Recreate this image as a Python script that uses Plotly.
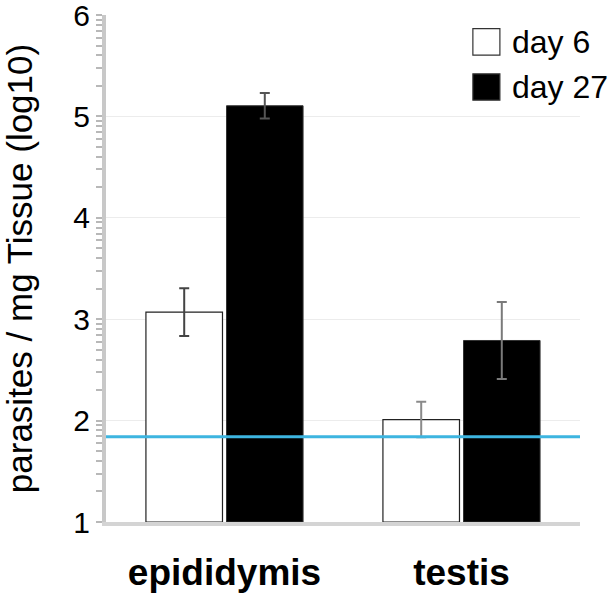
import plotly.graph_objects as go
import numpy as np

categories = ["epididymis", "testis"]
series_names = ["day 6", "day 27"]
day6_values = [3.07, 2.01]
day6_errors = [0.235, 0.175]
day27_values = [5.105, 2.79]
day27_errors = [0.125, 0.38]
threshold = 1.84
y_ticks = [1, 2, 3, 4, 5, 6]

err_colors_d6 = ["#444444", "#8a8a8a"]
err_colors_d27 = ["#555555", "#7a7a7a"]

fig = go.Figure()
for i, cat in enumerate(categories):
    fig.add_trace(go.Bar(
        x=[cat], y=[day6_values[i] - 1], base=1, name=series_names[0],
        offsetgroup="d6", showlegend=False,
        marker=dict(color="white", line=dict(color="#222222", width=1.2)),
        error_y=dict(type="data", array=[day6_errors[i]], color=err_colors_d6[i],
                     thickness=2, width=5),
    ))
    fig.add_trace(go.Bar(
        x=[cat], y=[day27_values[i] - 1], base=1, name=series_names[1],
        offsetgroup="d27", showlegend=False,
        marker=dict(color="black", line=dict(color="#333333", width=1)),
        error_y=dict(type="data", array=[day27_errors[i]], color=err_colors_d27[i],
                     thickness=2, width=5),
    ))

# threshold line
fig.add_shape(type="line", xref="x domain", yref="y", x0=0, x1=1,
              y0=threshold, y1=threshold,
              line=dict(color="#3db5e0", width=3), layer="above")

# minor log ticks
minor_vals = [k + np.log10(m) for k in range(1, 6) for m in range(2, 10)]

font = "Liberation Sans, Arial, sans-serif"
fig.update_layout(
    width=615, height=595,
    margin=dict(l=106, r=35, t=15, b=73),
    paper_bgcolor="white", plot_bgcolor="white",
    barmode="group", bargap=0.32, bargroupgap=0.05,
    font=dict(family=font, color="black"),
    showlegend=False,
)
fig.update_xaxes(
    showline=True, linecolor="#d4d4d4", linewidth=4,
    showgrid=False, ticks="", tickfont=dict(size=37, family=font, weight="bold"),
    ticklabelstandoff=15, automargin=False,
)
fig.update_yaxes(
    range=[1, 6], tickvals=y_ticks, ticktext=[str(v) for v in y_ticks],
    showline=True, linecolor="#c8c8c8", linewidth=4,
    ticks="outside", ticklen=6, tickcolor="#b8b8b8", tickwidth=1.5,
    showgrid=True, gridcolor="#ececec", gridwidth=1,
    tickfont=dict(size=30, family=font), ticklabeloverflow="allow",
    minor=dict(tickmode="array", tickvals=minor_vals, ticks="outside",
               ticklen=6, tickcolor="#b8b8b8", tickwidth=1.5, showgrid=False),
    title=dict(text="parasites / mg Tissue (log10)", font=dict(size=35, family=font),
               standoff=60),
    zeroline=False, automargin=False,
)

# legend drawn in paper coordinates
legend_y = [0.947, 0.858]
legend_fill = ["white", "black"]
for name, yc, fill in zip(series_names, legend_y, legend_fill):
    fig.add_shape(type="rect", xref="paper", yref="paper",
                  x0=0.774, x1=0.831, y0=yc - 0.026, y1=yc + 0.026,
                  fillcolor=fill, line=dict(color="#333333", width=1.2))
    fig.add_annotation(xref="paper", yref="paper", x=0.852, y=yc,
                       xanchor="left", yanchor="middle", showarrow=False,
                       text=name, font=dict(size=32, family=font, color="black"))

fig.write_html("out.html", config={"displayModeBar": False},
               post_script="document.body.style.margin='0';")
